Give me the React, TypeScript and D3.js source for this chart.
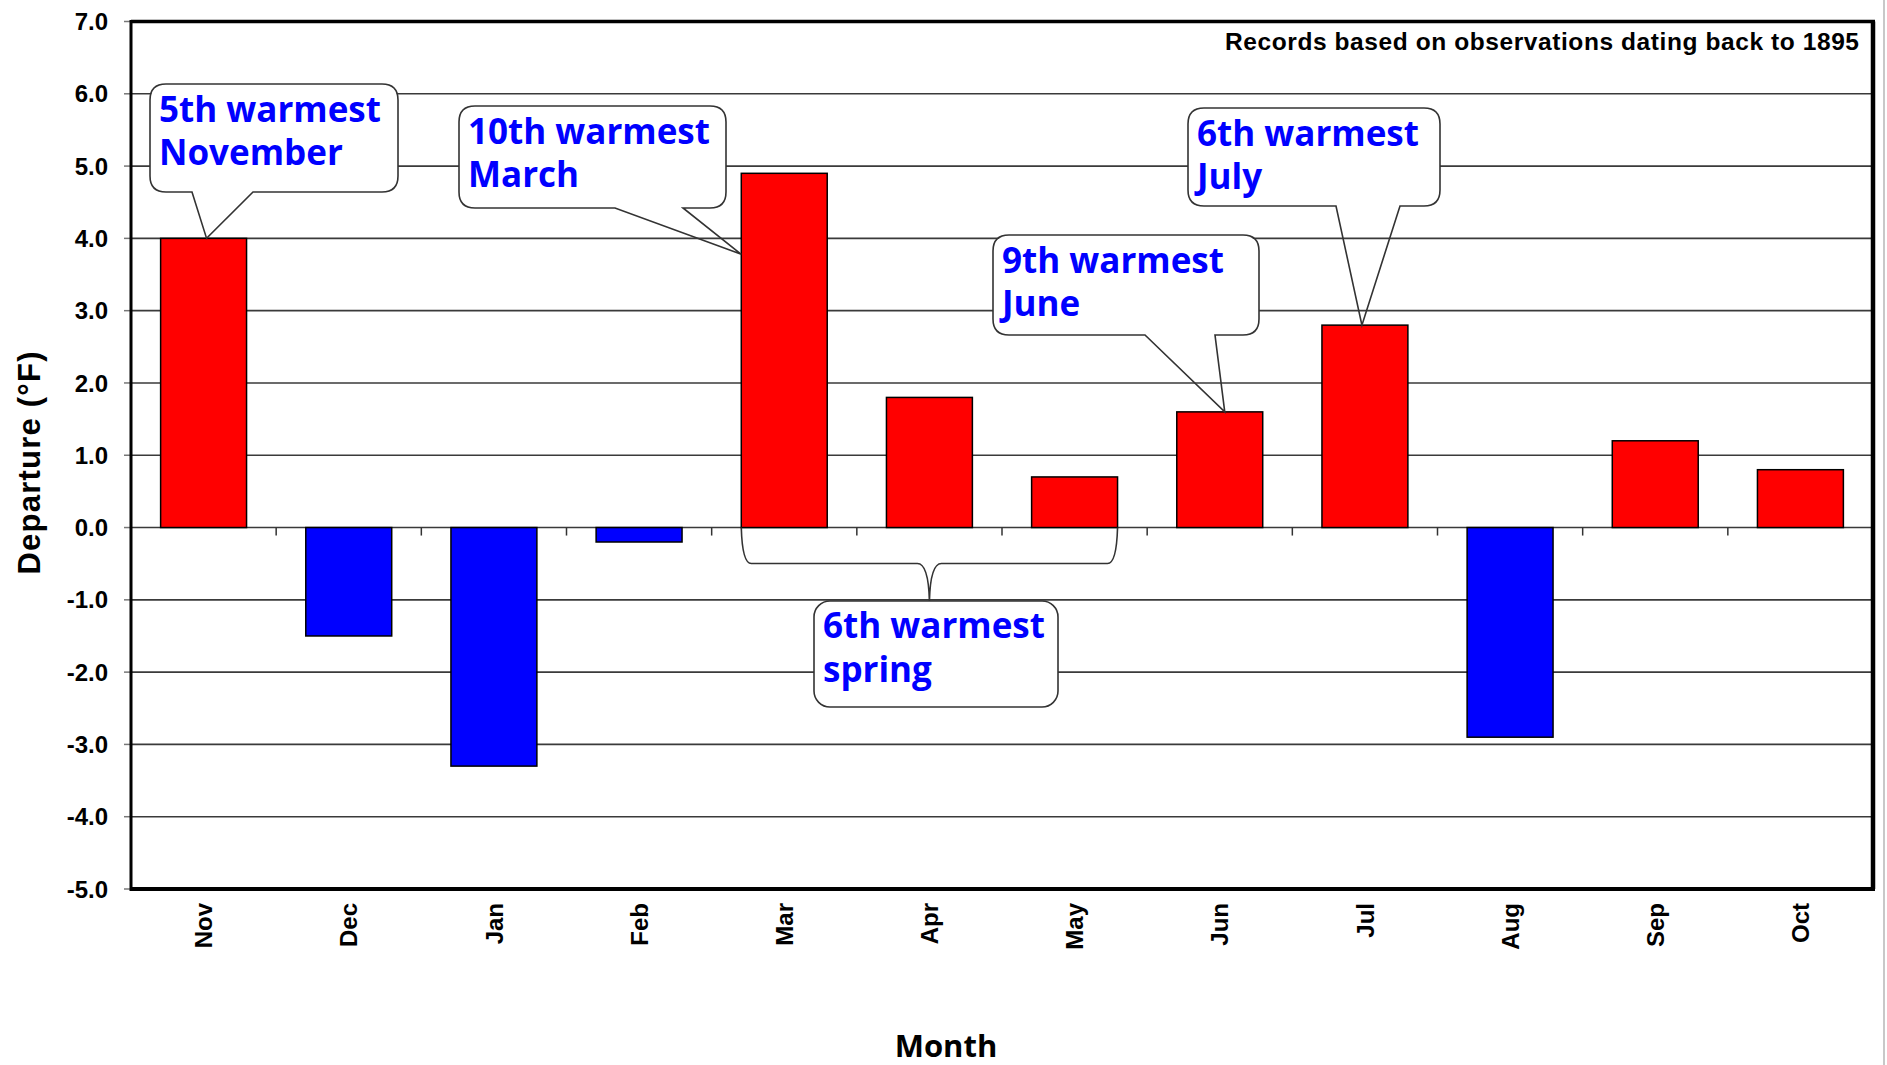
import React from "react";
import * as d3 from "d3";

// ---- data ----
const months = ["Nov", "Dec", "Jan", "Feb", "Mar", "Apr", "May", "Jun", "Jul", "Aug", "Sep", "Oct"];
const departures = [4.0, -1.5, -3.3, -0.2, 4.9, 1.8, 0.7, 1.6, 2.8, -2.9, 1.2, 0.8];
const yTickValues = [-5, -4, -3, -2, -1, 0, 1, 2, 3, 4, 5, 6, 7];
const calloutMonths = ["Nov", "Mar", "Jun", "Jul"];
const calloutTexts = [
  ["5th warmest", "November"],
  ["10th warmest", "March"],
  ["9th warmest", "June"],
  ["6th warmest", "July"],
];
const springMonths = ["Mar", "Apr", "May"];
const springText = ["6th warmest", "spring"];
const recordNote = "Records based on observations dating back to 1895";
const yTitle = "Departure (°F)";
const xTitle = "Month";

// ---- layout ----
const W = 1887;
const H = 1065;
const plot = { left: 131, right: 1873, top: 21.5, bottom: 889 };

// callout box geometry (pixels) and pointer target (relative to bar)
const calloutLayout = [
  { x: 150, y: 84, w: 248, h: 108, b1: 192, b2: 253, tip: "center", dx: 3, atValue: null as number | null },
  { x: 459, y: 106, w: 267, h: 102, b1: 615, b2: 683, tip: "left", dx: 0, atValue: 3.78 },
  { x: 993, y: 235, w: 266, h: 100, b1: 1145, b2: 1215, tip: "center", dx: 5, atValue: null },
  { x: 1188, y: 108, w: 252, h: 98, b1: 1336, b2: 1400, tip: "center", dx: -3, atValue: null },
];
const springBox = { x: 814, y: 601, w: 244, h: 106 };

const calloutFont = "'Open Sans', 'Noto Sans', sans-serif";
const axisFont = "'Liberation Sans', Arial, sans-serif";

function calloutPath(b: { x: number; y: number; w: number; h: number }, b1: number, b2: number, tx: number, ty: number) {
  const r = 16;
  const { x, y, w, h } = b;
  return [
    `M${x + r},${y}`,
    `H${x + w - r}`,
    `Q${x + w},${y} ${x + w},${y + r}`,
    `V${y + h - r}`,
    `Q${x + w},${y + h} ${x + w - r},${y + h}`,
    `H${b2}`,
    `L${tx},${ty}`,
    `L${b1},${y + h}`,
    `H${x + r}`,
    `Q${x},${y + h} ${x},${y + h - r}`,
    `V${y + r}`,
    `Q${x},${y} ${x + r},${y}`,
    "Z",
  ].join(" ");
}

function roundRect(b: { x: number; y: number; w: number; h: number }) {
  return { x: b.x, y: b.y, width: b.w, height: b.h, rx: 16, ry: 16 };
}

export default function App() {
  const x = d3.scaleBand<string>().domain(months).range([plot.left, plot.right]).paddingInner(0.408).paddingOuter(0.204);
  const y = d3.scaleLinear().domain([-5, 7]).range([plot.bottom, plot.top]);
  const step = x.step();
  const bw = x.bandwidth();
  const y0 = y(0);

  // brace for spring
  const bx1 = x(springMonths[0])!;
  const bx2 = x(springMonths[springMonths.length - 1])! + bw;
  const bcx = (bx1 + bx2) / 2;
  const bym = y0 + 36;
  const btip = springBox.y;
  const bracePath = [
    `M${bx1},${y0}`,
    `Q${bx1 + 1},${bym} ${bx1 + 10},${bym}`,
    `L${bcx - 12},${bym}`,
    `Q${bcx - 1},${bym} ${bcx},${btip}`,
    `Q${bcx + 1},${bym} ${bcx + 12},${bym}`,
    `L${bx2 - 10},${bym}`,
    `Q${bx2 - 1},${bym} ${bx2},${y0}`,
  ].join(" ");

  return (
    <div style={{ position: "fixed", left: 0, top: 0, width: W, height: H, background: "#fff" }}>
      <svg width={W} height={H} viewBox={`0 0 ${W} ${H}`} style={{ display: "block" }}>
        <rect x={0} y={0} width={W} height={H} fill="#fff" />
        <line x1={1884} x2={1884} y1={0} y2={H} stroke="#c8c8c8" strokeWidth={2} />

        {/* gridlines */}
        {yTickValues.map((v) => (
          <line key={"g" + v} x1={plot.left} x2={plot.right} y1={y(v)} y2={y(v)} stroke="#3a3a3a" strokeWidth={1.6} />
        ))}
        {/* y ticks */}
        {yTickValues.map((v) => (
          <line key={"t" + v} x1={124} x2={plot.left} y1={y(v)} y2={y(v)} stroke="#777" strokeWidth={1.5} />
        ))}
        {/* y tick labels */}
        {yTickValues.map((v) => (
          <text
            key={"l" + v}
            x={108}
            y={y(v)}
            dy="0.36em"
            textAnchor="end"
            fontFamily={axisFont}
            fontWeight="bold"
            fontSize={24}
            fill="#000"
          >
            {v.toFixed(1)}
          </text>
        ))}

        {/* bars */}
        {months.map((m, i) => {
          const v = departures[i];
          return (
            <rect
              key={m}
              x={x(m)}
              y={Math.min(y(v), y0)}
              width={bw}
              height={Math.abs(y(v) - y0)}
              fill={v >= 0 ? "#ff0000" : "#0000ff"}
              stroke="#000"
              strokeWidth={1.5}
            />
          );
        })}

        {/* x ticks at band boundaries */}
        {months.slice(1).map((m, i) => (
          <line
            key={"xt" + m}
            x1={plot.left + step * (i + 1)}
            x2={plot.left + step * (i + 1)}
            y1={y0}
            y2={y0 + 8}
            stroke="#333"
            strokeWidth={1.5}
          />
        ))}

        {/* frame */}
        <line x1={plot.left} x2={plot.right + 2} y1={plot.top} y2={plot.top} stroke="#000" strokeWidth={3.5} />
        <line x1={plot.left} x2={plot.right + 2} y1={plot.bottom} y2={plot.bottom} stroke="#000" strokeWidth={4} />
        <line x1={plot.right} x2={plot.right} y1={plot.top} y2={plot.bottom} stroke="#000" strokeWidth={4.5} />
        <line x1={plot.left} x2={plot.left} y1={plot.top - 1.5} y2={plot.bottom + 2} stroke="#000" strokeWidth={3} />

        {/* x labels */}
        {months.map((m) => {
          const cx = x(m)! + bw / 2;
          return (
            <text
              key={"xl" + m}
              transform={`translate(${cx},${903}) rotate(-90)`}
              dy="0.36em"
              textAnchor="end"
              fontFamily={axisFont}
              fontWeight="bold"
              fontSize={24}
              fill="#000"
            >
              {m}
            </text>
          );
        })}

        {/* note */}
        <text
          x={1859}
          y={50}
          textAnchor="end"
          fontFamily={axisFont}
          fontWeight="bold"
          fontSize={24.5}
          textLength={634}
          lengthAdjust="spacing"
          fill="#000"
        >
          {recordNote}
        </text>

        {/* axis titles */}
        <text
          transform={`translate(40,463) rotate(-90)`}
          textAnchor="middle"
          fontFamily={axisFont}
          fontWeight="bold"
          fontSize={31}
          textLength={223}
          lengthAdjust="spacing"
          fill="#000"
        >
          {yTitle}
        </text>
        <text x={946} y={1057} textAnchor="middle" fontFamily={calloutFont} fontWeight={700} fontSize={31} fill="#000">
          {xTitle}
        </text>

        {/* callouts */}
        {calloutMonths.map((m, i) => {
          const L = calloutLayout[i];
          const idx = months.indexOf(m);
          const v = departures[idx];
          const tx = L.tip === "left" ? x(m)! : x(m)! + bw / 2 + L.dx;
          const ty = y(L.atValue != null ? L.atValue : v);
          return (
            <g key={"c" + m}>
              <rect {...roundRect(L)} fill="#fff" stroke="none" />
              <path d={calloutPath(L, L.b1, L.b2, tx, ty)} fill="none" stroke="#333" strokeWidth={1.6} />
              {calloutTexts[i].map((t, j) => (
                <text
                  key={j}
                  x={L.x + 9}
                  y={L.y + 38 + j * 43}
                  fontFamily={calloutFont}
                  fontWeight={700}
                  fontSize={35}
                  fill="#0000ff"
                >
                  {t}
                </text>
              ))}
            </g>
          );
        })}

        {/* spring brace + box */}
        <path d={bracePath} fill="none" stroke="#333" strokeWidth={1.6} />
        <rect {...roundRect(springBox)} fill="#fff" stroke="#333" strokeWidth={1.6} />
        {springText.map((t, j) => (
          <text
            key={"s" + j}
            x={springBox.x + 9}
            y={springBox.y + 37 + j * 44}
            fontFamily={calloutFont}
            fontWeight={700}
            fontSize={35}
            fill="#0000ff"
          >
            {t}
          </text>
        ))}
      </svg>
    </div>
  );
}
